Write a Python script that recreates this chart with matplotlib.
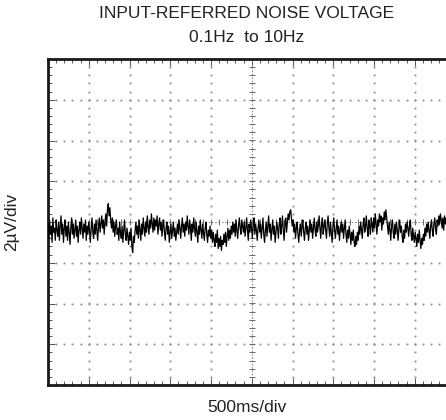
import numpy as np
import matplotlib
matplotlib.use("Agg")
import matplotlib.pyplot as plt
from matplotlib.ticker import MultipleLocator

plt.rcParams['font.family'] = ['Liberation Sans', 'DejaVu Sans']

title_line1 = "INPUT-REFERRED NOISE VOLTAGE"
title_line2 = "0.1Hz  to 10Hz"
x_label = "500ms/div"
y_label = "2\u00b5V/div"

# noise trace in microvolts (2 uV per division), sampled across the visible screen
noise_uv = [
    -0.1, -0.8, 0.1, -0.6, -0.2, -1.0, 0.2, -0.5, -0.3, -0.9, 0.1, -0.4, -0.7, 0.0, -0.9, -0.2, 0.3, -0.6, -0.1, -1.0,
    -0.3, 0.1, -0.7, -0.2, -0.9, 0.0, -0.5, -1.1, -0.3, 0.2, -0.6, -0.1, -0.8, -0.4, 0.1, -0.7, -0.2, -1.0, -0.4, 0.0,
    -0.6, 0.2, -0.3, -0.8, -0.1, -0.5, 0.1, -0.9, -0.2, -0.6, 0.0, -0.4, -1.0, -0.3, 0.2, -0.5, -0.8, -0.1, -0.6, 0.1,
    -0.4, -0.9, -0.2, 0.2, -0.5, -0.1, 0.3, -0.3, 0.1, -0.6, 0.0, 0.4, -0.2, 0.6, 0.9, 0.3, 0.7, 0.1, -0.3, 0.2,
    -0.5, 0.0, -0.7, -0.2, 0.1, -0.6, -0.3, -0.9, 0.0, -0.5, -0.8, -0.2, -1.0, -0.4, 0.1, -0.6, -0.9, -0.3, -0.7, -1.1,
    -0.5, -0.9, -0.3, -1.2, -1.5, -0.7, -1.0, -0.4, 0.0, -0.6, -0.2, -0.8, 0.1, -0.4, -0.9, -0.1, -0.6, 0.2, -0.3, -0.7,
    0.0, -0.5, 0.3, -0.2, -0.6, 0.1, -0.3, 0.4, -0.1, -0.5, 0.2, -0.4, 0.1, -0.2, 0.3, -0.6, -0.1, 0.2, -0.4, 0.0,
    -0.7, -0.2, 0.1, -0.5, -0.9, -0.3, 0.0, -0.6, -0.2, -1.0, -0.5, -0.1, -0.8, -0.4, 0.0, -0.7, -0.3, -0.9, -0.5, -0.1,
    -0.6, 0.1, -0.3, -0.8, -0.2, 0.2, -0.5, -0.1, -0.7, 0.0, -0.4, 0.3, -0.2, -0.6, 0.1, -0.3, -0.9, -0.1, -0.5, 0.2,
    -0.3, -0.7, 0.0, -0.5, -1.0, -0.2, -0.6, 0.1, -0.4, -0.8, -0.1, -0.5, -0.9, -0.3, 0.0, -0.6, -1.0, -0.4, -0.7, -0.2,
    -0.8, -0.4, -1.0, -0.5, -0.9, -1.2, -0.6, -1.0, -0.4, -1.3, -0.8, -1.2, -0.7, -1.4, -0.9, -1.1, -0.6, -1.0, -0.5, -1.2,
    -0.7, -0.3, -0.9, -0.4, -0.8, -0.2, -0.6, 0.0, -0.5, -0.1, -0.7, 0.1, -0.4, -0.8, -0.2, 0.2, -0.3, -0.6, 0.1, -0.2,
    -0.5, 0.0, -0.7, -0.3, 0.2, -0.4, -0.9, -0.1, -0.5, 0.1, -0.3, -0.8, -0.2, 0.2, -0.6, -0.1, -0.4, -0.9, -0.3, 0.1,
    -0.5, -0.1, -0.8, -0.3, 0.2, -0.6, -1.0, -0.4, 0.0, -0.7, -0.2, 0.3, -0.5, -0.1, -0.9, -0.4, 0.1, -0.6, -0.2, -1.0,
    -0.5, 0.0, -0.3, -0.8, -0.1, 0.2, -0.6, -0.2, 0.3, -0.4, -0.9, -0.1, 0.2, -0.5, 0.0, 0.4, 0.1, 0.5, 0.6, 0.2,
    -0.2, 0.1, -0.5, -0.1, -0.8, -0.3, 0.0, -0.6, -1.0, -0.4, -0.1, -0.7, -0.2, 0.1, -0.5, -0.9, -0.3, 0.0, -0.6, -0.2,
    -0.9, -0.4, 0.1, -0.5, -0.1, -0.8, -0.3, 0.2, -0.4, -0.7, 0.0, -0.5, -0.2, 0.3, -0.3, -0.8, -0.1, 0.2, -0.6, -0.2,
    0.1, -0.4, -0.8, -0.1, 0.3, -0.3, -0.7, 0.0, -0.5, -1.0, -0.2, 0.2, -0.4, -0.8, -0.3, 0.1, -0.6, -0.2, -0.9, -0.4,
    0.0, -0.5, -0.1, -0.8, -0.3, 0.1, -0.6, -1.0, -0.4, -0.8, -0.2, -0.6, -1.1, -0.5, -0.9, -0.4, -1.0, -1.2, -0.7, -1.1,
    -0.5, -0.9, -0.2, -0.6, 0.0, -0.4, -0.8, -0.1, 0.2, -0.5, -0.2, 0.3, -0.3, -0.7, 0.1, -0.2, -0.6, 0.2, -0.1, -0.5,
    0.2, -0.3, 0.4, -0.1, -0.6, 0.1, -0.2, 0.4, 0.0, 0.3, -0.4, 0.2, -0.1, 0.5, 0.1, 0.6, 0.2, -0.2, -0.6, 0.0,
    -0.4, -0.9, -0.2, 0.1, -0.5, -0.8, -0.1, -0.6, 0.0, -0.4, -0.9, -0.3, 0.1, -0.5, -0.2, -0.7, -1.0, -0.4, -0.8, -0.1,
    -0.5, 0.0, -0.3, -0.7, -0.2, 0.1, -0.6, -0.9, -0.3, -0.7, -1.0, -0.5, -0.8, -1.2, -0.6, -1.0, -0.4, -0.9, -1.3, -0.8,
    -1.1, -0.6, -0.9, -0.3, -0.7, -0.1, -0.5, 0.0, -0.4, -0.8, -0.2, 0.1, -0.4, -0.7, -0.1, 0.2, -0.3, -0.6, 0.1, -0.2,
    0.3, -0.1, 0.4, 0.1, -0.3, 0.2, -0.4, 0.3, -0.1, 0.2,
]
uv_per_div = 2.0
visible_divs = 9.77  # trace reaches the right edge of the picture

n_xdiv = 10
n_ydiv = 8

fig = plt.figure(figsize=(4.46, 4.20), dpi=100)
W, H = 446, 420
left, top, bottom = 48, 59, 385
divpx = (bottom - top) / n_ydiv
ax = fig.add_axes([left / W, (H - bottom) / H, n_xdiv * divpx / W, (bottom - top) / H])
ax.set_xlim(0, n_xdiv)
ax.set_ylim(-n_ydiv / 2, n_ydiv / 2)

grid_col = '#8a8a8a'
minor = np.arange(0, n_xdiv + 0.001, 0.2)
minor_y = np.arange(-n_ydiv / 2, n_ydiv / 2 + 0.001, 0.2)

# dotted graticule
for gx in range(1, n_xdiv):
    if gx == 5:
        continue
    ax.plot(np.full_like(minor_y, gx), minor_y, ls='none', marker='s', ms=1.3,
            color=grid_col, mew=0)
for gy in range(-3, 4):
    if gy == 0:
        continue
    ax.plot(minor, np.full_like(minor, gy), ls='none', marker='s', ms=1.3,
            color=grid_col, mew=0)

# center crosshair with minor ticks
ax.plot(minor, np.zeros_like(minor), ls='none', marker='|', ms=4, mew=0.7, color='#666666')
ax.plot(np.full_like(minor_y, 5), minor_y, ls='none', marker='_', ms=4, mew=0.7, color='#666666')
ax.axhline(0, color='#777777', lw=0.6, ls=(0, (2, 2)))
ax.axvline(5, color='#777777', lw=0.6, ls=(0, (2, 2)))

# trace
y = np.array(noise_uv) / uv_per_div
x = np.linspace(0, visible_divs, len(y))
ax.plot(x, y, color='black', lw=0.9, zorder=5)

# frame
for s in ['left', 'top', 'bottom']:
    ax.spines[s].set_linewidth(2.0)
    ax.spines[s].set_color('#1a1a1a')
ax.spines['right'].set_visible(False)

ax.xaxis.set_major_locator(MultipleLocator(1))
ax.xaxis.set_minor_locator(MultipleLocator(0.2))
ax.yaxis.set_major_locator(MultipleLocator(1))
ax.yaxis.set_minor_locator(MultipleLocator(0.2))
ax.tick_params(which='both', direction='in', top=True, bottom=True, left=True, right=False,
               labelbottom=False, labelleft=False, color='#555555', width=0.7)
ax.tick_params(which='major', length=5)
ax.tick_params(which='minor', length=3)

fig.text(247 / W, 1 - 14 / H, title_line1, ha='center', va='center', fontsize=12.5, color='#222222')
fig.text(247 / W, 1 - 37 / H, title_line2, ha='center', va='center', fontsize=12.5, color='#222222')
fig.text(247 / W, 1 - 407 / H, x_label, ha='center', va='center', fontsize=12.5, color='#222222')
fig.text(12 / W, 1 - 222 / H, y_label, ha='center', va='center', fontsize=12.5, rotation=90,
         color='#222222')

fig.savefig('out.png', dpi=100)
